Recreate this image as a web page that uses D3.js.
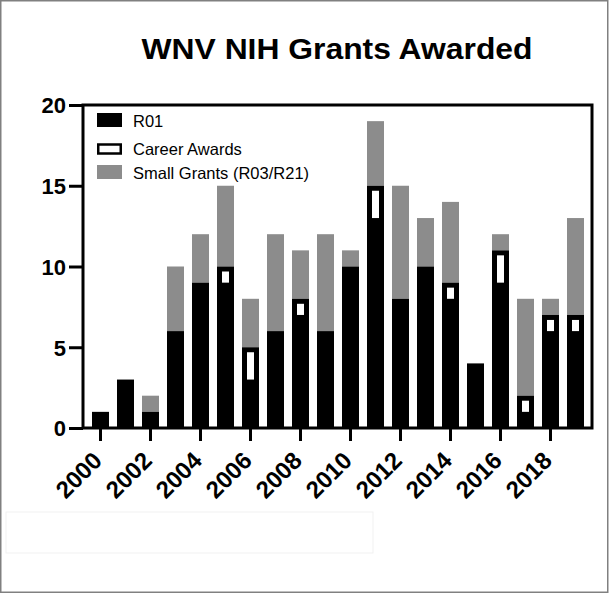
<!DOCTYPE html>
<head>
  <meta charset="utf-8">
  <script src="https://d3js.org/d3.v7.min.js"></script>
  <style>
    body { margin:0; background:#fff; }
    text { font-family: 'Liberation Sans', Arial, sans-serif; fill: #000; }
    .title { font-size: 29px; font-weight: 700; }
    .axis text { font-size: 22px; font-weight: 700; }
    .x-axis text { font-size: 24px; }
    .axis line { stroke: #000; stroke-width: 3; }
    .axis path { display: none; }
    .legend text { font-size: 16.5px; }
  </style>
</head>

<body>
  <script>
    // data
    var years = d3.range(2000, 2020);
    var r01    = [1, 3, 1, 6, 9, 9, 3, 6, 7, 6, 10, 13, 8, 10, 8, 4, 9, 1, 6, 6];
    var career = [0, 0, 0, 0, 0, 1, 2, 0, 1, 0, 0, 2, 0, 0, 1, 0, 2, 1, 1, 1];
    var small  = [0, 0, 1, 4, 3, 5, 3, 6, 3, 6, 1, 4, 7, 3, 5, 0, 1, 6, 1, 6];
    var yTicks = [0, 5, 10, 15, 20];
    var xTicks = [2000, 2002, 2004, 2006, 2008, 2010, 2012, 2014, 2016, 2018];
    var legendItems = ["R01", "Career Awards", "Small Grants (R03/R21)"];

    var W = 609, H = 593;
    var frame = {left: 83, right: 592, top: 105, bottom: 428};
    var grey = "#8c8c8c";

    var svg = d3.select("body").append("svg")
        .attr("width", W)
        .attr("height", H);

    // outer picture border + faint leftover box
    svg.append("rect")
      .attr("x", 0.75).attr("y", 0.75)
      .attr("width", W - 2).attr("height", H - 1.5)
      .attr("fill", "none").attr("stroke", "#808080").attr("stroke-width", 1.5);
    svg.append("rect")
      .attr("x", 6).attr("y", 512).attr("width", 367).attr("height", 41)
      .attr("fill", "none").attr("stroke", "#f1f1f1").attr("stroke-width", 1);

    var x = d3.scaleBand()
        .domain(years)
        .range([88, 588])
        .paddingInner(0.32)
        .paddingOuter(0.16);

    var y = d3.scaleLinear()
        .domain([0, 20])
        .range([frame.bottom, frame.top]);

    var rows = years.map((yr, i) => ({
      year: yr, r01: r01[i], career: career[i], small: small[i]
    }));

    svg.append("text")
      .attr("class", "title")
      .attr("x", 141.5)
      .attr("y", 58.5)
      .attr("textLength", 391)
      .attr("lengthAdjust", "spacingAndGlyphs")
      .text("WNV NIH Grants Awarded");

    var bars = svg.append("g");

    // small grants on top (grey)
    bars.selectAll(".small")
      .data(rows.filter(d => d.small > 0))
      .enter().append("rect")
        .attr("x", d => x(d.year))
        .attr("width", x.bandwidth())
        .attr("y", d => y(d.r01 + d.career + d.small))
        .attr("height", d => y(d.r01 + d.career) - y(d.r01 + d.career + d.small))
        .attr("fill", grey);

    // R01 + career part in black
    bars.selectAll(".black")
      .data(rows)
      .enter().append("rect")
        .attr("x", d => x(d.year))
        .attr("width", x.bandwidth())
        .attr("y", d => y(d.r01 + d.career))
        .attr("height", d => y(0) - y(d.r01 + d.career))
        .attr("fill", "#000");

    // career awards: white box inside a thick black border
    var inset = 5;
    bars.selectAll(".career")
      .data(rows.filter(d => d.career > 0))
      .enter().append("rect")
        .attr("x", d => x(d.year) + inset)
        .attr("width", x.bandwidth() - 2 * inset)
        .attr("y", d => y(d.r01 + d.career) + inset)
        .attr("height", d => y(d.r01) - y(d.r01 + d.career) - inset)
        .attr("fill", "#fff");

    // frame
    svg.append("rect")
      .attr("x", frame.left).attr("y", frame.top)
      .attr("width", frame.right - frame.left)
      .attr("height", frame.bottom - frame.top)
      .attr("fill", "none").attr("stroke", "#000").attr("stroke-width", 3);

    var yAxis = d3.axisLeft(y)
        .tickValues(yTicks)
        .tickSize(14)
        .tickSizeOuter(0)
        .tickPadding(3);

    svg.append("g")
      .attr("class", "axis")
      .attr("transform", "translate(" + frame.left + ",0)")
      .call(yAxis)
      .selectAll("text")
        .attr("dy", "0.36em");

    var xAxis = d3.axisBottom(x)
        .tickValues(xTicks)
        .tickSize(13)
        .tickSizeOuter(0);

    var xg = svg.append("g")
      .attr("class", "axis x-axis")
      .attr("transform", "translate(0," + frame.bottom + ")")
      .call(xAxis);

    xg.selectAll("text")
      .attr("y", 0)
      .attr("dy", 0)
      .attr("text-anchor", "end")
      .attr("transform", "translate(3,34) rotate(-45)");

    // legend
    var legend = svg.append("g").attr("class", "legend");
    var lx = 97, lw = 25;
    legend.append("rect")
      .attr("x", lx).attr("y", 113).attr("width", lw).attr("height", 14)
      .attr("fill", "#000");
    legend.append("rect")
      .attr("x", lx + 1.25).attr("y", 144.5).attr("width", lw - 2.5).attr("height", 9)
      .attr("fill", "#fff").attr("stroke", "#000").attr("stroke-width", 2.5);
    legend.append("rect")
      .attr("x", lx).attr("y", 165).attr("width", lw).attr("height", 14)
      .attr("fill", grey);

    legend.selectAll("text")
      .data(legendItems)
      .enter().append("text")
        .attr("x", 133)
        .attr("y", (d, i) => [126.5, 155, 179][i])
        .text(d => d);
  </script>
</body>
